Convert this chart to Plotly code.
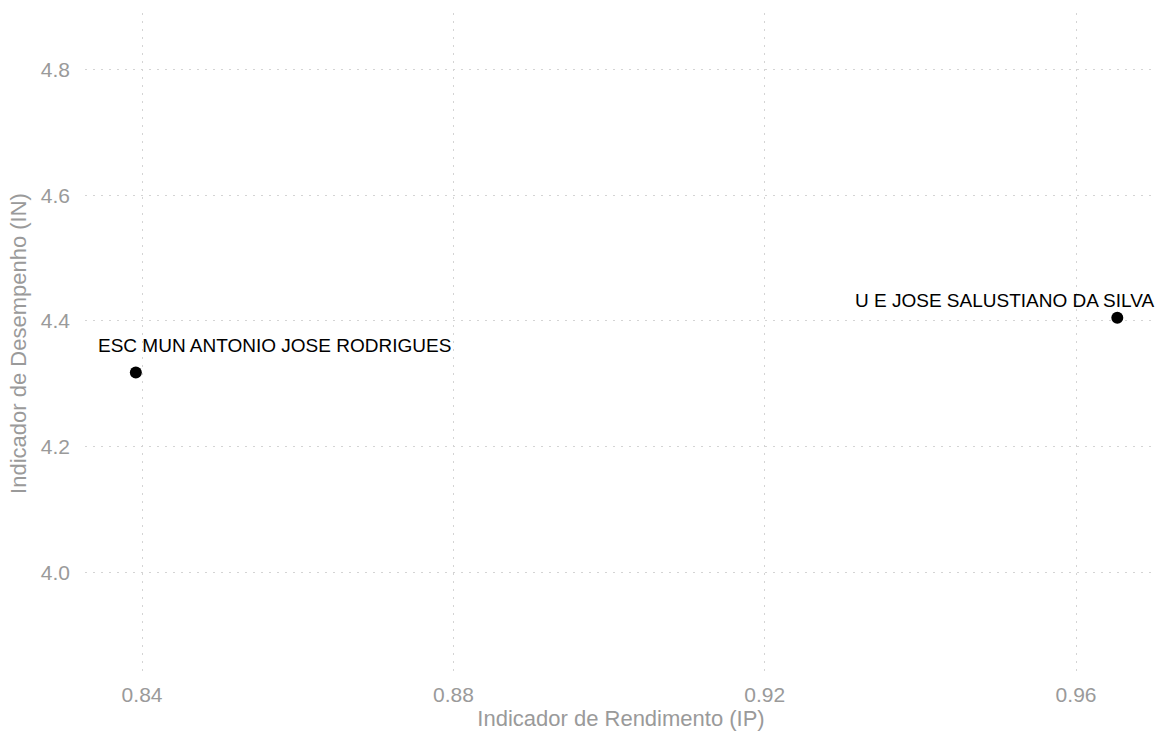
import plotly.graph_objects as go

schools = ["ESC MUN ANTONIO JOSE RODRIGUES", "U E JOSE SALUSTIANO DA SILVA"]
ip_values = [0.8392, 0.9653]
in_values = [4.318, 4.405]
label_xanchor = ["left", "right"]
label_xshift = [-40, 39]
label_yshift = [27, 17]

x_ticks = [0.84, 0.88, 0.92, 0.96]
x_tick_labels = ["0.84", "0.88", "0.92", "0.96"]
y_ticks = [4.0, 4.2, 4.4, 4.6, 4.8]
y_tick_labels = ["4.0", "4.2", "4.4", "4.6", "4.8"]

FONT = "Liberation Sans, Arial, Helvetica, sans-serif"
GRAY = "#9a9a9a"
GRID = "#d4d4d4"

fig = go.Figure()
fig.add_trace(go.Scatter(
    x=ip_values, y=in_values, mode="markers",
    marker=dict(color="black", size=12),
    hoverinfo="text", text=schools, showlegend=False,
))

for name, xv, yv, xa, xs, ys in zip(schools, ip_values, in_values, label_xanchor, label_xshift, label_yshift):
    fig.add_annotation(
        x=xv, y=yv, text=name, showarrow=False,
        xanchor=xa, yanchor="middle", xshift=xs, yshift=ys,
        font=dict(family=FONT, size=19, color="black"),
    )

fig.update_layout(
    width=1160, height=733,
    margin=dict(l=85, r=3, t=13, b=59),
    plot_bgcolor="white", paper_bgcolor="white",
    font=dict(family=FONT, color=GRAY),
)
fig.update_xaxes(
    range=[0.83267, 0.9704],
    tickvals=x_ticks, ticktext=x_tick_labels,
    showgrid=True, gridcolor=GRID, griddash="2px,6px", gridwidth=1,
    zeroline=False, showline=False, ticks="", ticklabelstandoff=6,
    tickfont=dict(family=FONT, size=21, color=GRAY),
    title=dict(text="Indicador de Rendimento (IP)", font=dict(family=FONT, size=22, color=GRAY), standoff=4),
    automargin=False,
)
fig.update_yaxes(
    range=[3.838, 4.890],
    tickvals=y_ticks, ticktext=y_tick_labels,
    showgrid=True, gridcolor=GRID, griddash="2px,6px", gridwidth=1,
    zeroline=False, showline=False, ticks="", ticklabelstandoff=14,
    tickfont=dict(family=FONT, size=21, color=GRAY),
    title=dict(text="Indicador de Desempenho (IN)", font=dict(family=FONT, size=22, color=GRAY), standoff=8),
    automargin=False,
)

fig.write_html("out.html", config={"displayModeBar": False},
               post_script="document.body.style.margin='0';")
